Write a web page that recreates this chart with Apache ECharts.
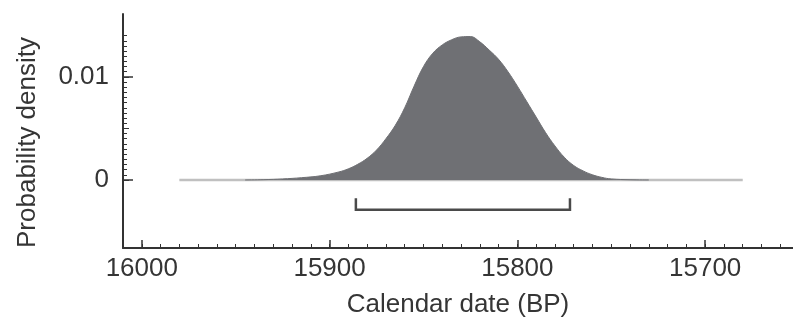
<!DOCTYPE html>
<html><head><meta charset="utf-8">
<script src="https://cdn.jsdelivr.net/npm/echarts@6/dist/echarts.min.js"></script>
<style>html,body{margin:0;padding:0;background:#fff}#c{width:793px;height:327px}</style>
</head><body><div id="c"></div>
<script>
// ---- data ----
const years   = [15945, 15935, 15925, 15915, 15905, 15895, 15890, 15885, 15880, 15875, 15870, 15865, 15860, 15855, 15850, 15845, 15840, 15835, 15830, 15825, 15820, 15815, 15810, 15805, 15800, 15795, 15790, 15785, 15780, 15775, 15770, 15765, 15760, 15755, 15750, 15740, 15730];
const density = [0, 0.00003, 0.0001, 0.00022, 0.0004, 0.00078, 0.00108, 0.00152, 0.0021, 0.0029, 0.0040, 0.0053, 0.0070, 0.0091, 0.0110, 0.0123, 0.0131, 0.0136, 0.01388, 0.01391, 0.0134, 0.0126, 0.0117, 0.0105, 0.0091, 0.0076, 0.0061, 0.0046, 0.0033, 0.0022, 0.0014, 0.00088, 0.0005, 0.00025, 0.0001, 0.00002, 0];
const baselineYears = [15980, 15680];
const rangeYears = [15886, 15772];      // 95% range bracket
const bracketLevels = [-0.0019, -0.0029];
const xTickLabels = [16000, 15900, 15800, 15700];
const yTickLabels = [0, 0.01];

// ---- layout ----
const X_MIN = 15600, X_MAX = 16010;
const Y_MIN = -0.0066, Y_MAX = 0.0161;
const LEFT = 123, TOP = 14, AXIS_Y = 248, HEIGHT = 327, WIDTH = 793;
const PX_PER_YR = 1.878;
const RIGHT = WIDTH - (LEFT + (X_MAX - X_MIN) * PX_PER_YR);
const BOTTOM = HEIGHT - AXIS_Y;
const pxY = v => TOP + (Y_MAX - v) / (Y_MAX - Y_MIN) * (AXIS_Y - TOP);

const FONT = '"Liberation Sans", Arial, Helvetica, sans-serif';
const TXT = '#353535';
const AX = '#333333';

function subGrid(vTop, vBottom) {
  const t = pxY(vTop), b = pxY(vBottom);
  return { left: LEFT, right: RIGHT, top: t, height: b - t, outerBoundsMode: 'none', containLabel: false };
}
const near = (a, b) => Math.abs(a - b) < 1e-9;

const bracketData = [
  [rangeYears[0], bracketLevels[0]], [rangeYears[0], bracketLevels[1]],
  [rangeYears[1], bracketLevels[1]], [rangeYears[1], bracketLevels[0]]
];

const hiddenX = (gi) => ({ type: 'value', gridIndex: gi, show: false, min: X_MIN, max: X_MAX, inverse: true, axisLine: { onZero: false } });
const baseGrid = { left: LEFT, right: RIGHT, top: TOP, bottom: BOTTOM, outerBoundsMode: 'none', containLabel: false };

const option = {
  animation: false,
  backgroundColor: '#fff',
  grid: [
    Object.assign({}, baseGrid),                                          // 0 main
    Object.assign({}, baseGrid),                                          // 1 major x ticks
    subGrid(0.014, 0),                                                    // 2 minor y ticks
    subGrid(0.01, 0),                                                     // 3 major y ticks + labels
    subGrid(0.01, 0),                                                     // 4 medium y ticks
    { left: LEFT, right: 0, top: 37, bottom: BOTTOM, outerBoundsMode: 'none', containLabel: false } // 5 names
  ],
  xAxis: [
    { type: 'value', gridIndex: 0, min: X_MIN, max: X_MAX, inverse: true, interval: 10,
      axisLine: { show: true, onZero: false, lineStyle: { color: AX, width: 2 } },
      axisTick: { show: true, inside: true, length: 4, lineStyle: { color: AX, width: 1 } },
      axisLabel: { show: true, margin: 8, color: TXT, fontFamily: FONT, fontSize: 26,
        formatter: v => xTickLabels.some(t => near(t, v)) ? String(v) : '' },
      splitLine: { show: false } },
    { type: 'value', gridIndex: 1, min: X_MIN, max: X_MAX, inverse: true, interval: 100,
      axisLine: { show: false, onZero: false },
      axisTick: { show: true, inside: true, length: 8, lineStyle: { color: AX, width: 1.5 } },
      axisLabel: { show: false }, splitLine: { show: false } },
    hiddenX(2), hiddenX(3), hiddenX(4),
    { type: 'value', gridIndex: 5, min: 0, max: 1,
      axisLine: { show: false, onZero: false }, axisTick: { show: false }, axisLabel: { show: false }, splitLine: { show: false },
      name: 'Calendar date (BP)', nameLocation: 'middle', nameGap: 44,
      nameTextStyle: { color: TXT, fontFamily: FONT, fontSize: 26 } }
  ],
  yAxis: [
    { type: 'value', gridIndex: 0, min: Y_MIN, max: Y_MAX,
      axisLine: { show: true, onZero: false, lineStyle: { color: AX, width: 2 } },
      axisTick: { show: false }, axisLabel: { show: false }, splitLine: { show: false } },
    { type: 'value', gridIndex: 1, min: Y_MIN, max: Y_MAX, show: false, axisLine: { onZero: false } },
    { type: 'value', gridIndex: 2, min: 0, max: 0.014, interval: 0.0005,
      axisLine: { show: false, onZero: false },
      axisTick: { show: true, inside: true, length: 4, lineStyle: { color: AX, width: 1 } },
      axisLabel: { show: false }, splitLine: { show: false } },
    { type: 'value', gridIndex: 3, min: 0, max: 0.01, interval: 0.01,
      axisLine: { show: false, onZero: false },
      axisTick: { show: true, inside: true, length: 10, lineStyle: { color: AX, width: 1.5 } },
      axisLabel: { show: true, margin: 14, color: TXT, fontFamily: FONT, fontSize: 26,
        formatter: v => yTickLabels.some(t => near(t, v)) ? (near(v, 0) ? '0' : String(v)) : '' },
      splitLine: { show: false } },
    { type: 'value', gridIndex: 4, min: 0, max: 0.01, interval: 0.005,
      axisLine: { show: false, onZero: false },
      axisTick: { show: true, inside: true, length: 6, lineStyle: { color: AX, width: 1 } },
      axisLabel: { show: false }, splitLine: { show: false } },
    { type: 'value', gridIndex: 5, min: 0, max: 1,
      axisLine: { show: false, onZero: false }, axisTick: { show: false }, axisLabel: { show: false }, splitLine: { show: false },
      name: 'Probability density', nameLocation: 'middle', nameGap: 82,
      nameTextStyle: { color: TXT, fontFamily: FONT, fontSize: 26 } }
  ],
  series: [
    { type: 'line', xAxisIndex: 0, yAxisIndex: 0, symbol: 'none', z: 2,
      data: baselineYears.map(y => [y, 0]),
      lineStyle: { color: '#c0c0c0', width: 2.5 } },
    { type: 'line', xAxisIndex: 0, yAxisIndex: 0, symbol: 'none', z: 3, smooth: 0.4,
      data: years.map((y, i) => [y, density[i]]),
      lineStyle: { color: '#6f7074', width: 1 },
      areaStyle: { color: '#6f7074', opacity: 1, origin: 0 } },
    { type: 'line', xAxisIndex: 0, yAxisIndex: 0, symbol: 'none', z: 4,
      data: bracketData,
      lineStyle: { color: '#4a4a4a', width: 2.5, cap: 'square', join: 'miter' } }
  ]
};

echarts.init(document.getElementById('c'), null, { renderer: 'canvas' }).setOption(option);
</script>
</body></html>
